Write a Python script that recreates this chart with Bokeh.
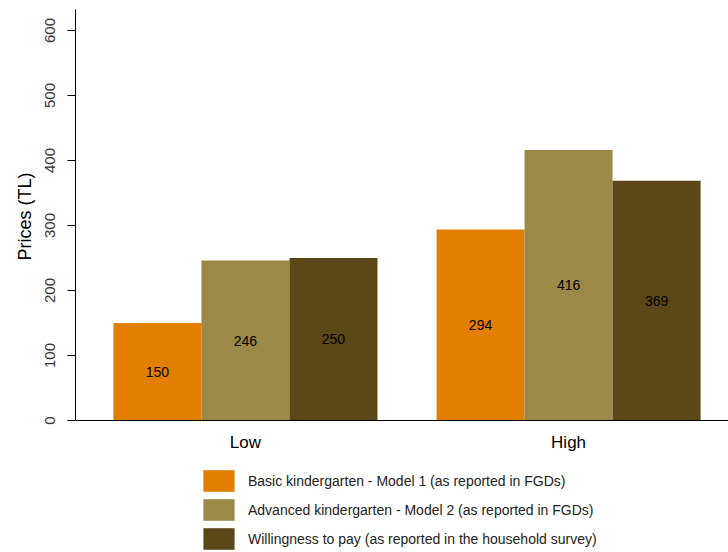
import numpy as np
from bokeh.plotting import figure
from bokeh.models import Range1d, SingleIntervalTicker, Legend, LegendItem, ColumnDataSource, Span, Title
from bokeh.core.properties import value
from bokeh.embed import file_html
from bokeh.resources import INLINE

categories = ["Low", "High"]
series_names = [
    "Basic kindergarten - Model 1 (as reported in FGDs)",
    "Advanced kindergarten - Model 2 (as reported in FGDs)",
    "Willingness to pay (as reported in the household survey)",
]
basic = [150, 294]
advanced = [246, 416]
willingness = [250, 369]
colors = ["#E37F00", "#9C8847", "#5B4718"]
y_label = "Prices (TL)"

FONT = "Liberation Sans"
Y_TOP = 632.3

p = figure(width=728, height=552, output_backend="svg", toolbar_location=None,
           x_axis_location=None,
           x_range=Range1d(-0.526, 1.495), y_range=Range1d(-203.1, Y_TOP),
           min_border_left=75, min_border_right=0, min_border_top=9, min_border_bottom=0)
p.outline_line_color = None
p.grid.visible = False

w = 0.2724
centers = np.arange(len(categories))
items = []
for k, (vals, name, col) in enumerate(zip([basic, advanced, willingness], series_names, colors)):
    xs = centers + (k - 1) * w
    src = ColumnDataSource(dict(x=xs, top=vals, mid=[v / 2 for v in vals], lab=[str(v) for v in vals]))
    r = p.vbar(x="x", top="top", bottom=0, width=w, source=src, fill_color=col, line_color=None)
    p.text(x="x", y="mid", text="lab", source=src, text_align="center", text_baseline="middle",
           text_font=value(FONT), text_font_size="14px", text_color="black")
    items.append(LegendItem(label=name, renderers=[r]))

# baseline (x axis line) and category labels
p.add_layout(Span(location=0, dimension="width", line_color="black", line_width=1))
cat_src = ColumnDataSource(dict(x=centers, y=[0] * len(categories), t=categories))
p.text(x="x", y="y", text="t", source=cat_src, text_align="center", text_baseline="middle",
       y_offset=22, text_font=value(FONT), text_font_size="17px", text_color="black")

# y axis
p.yaxis.ticker = SingleIntervalTicker(interval=100)
p.yaxis.bounds = (0, Y_TOP)
p.yaxis.major_label_orientation = "vertical"
p.yaxis.major_label_text_font = FONT
p.yaxis.major_label_text_font_size = "15px"
p.yaxis.major_label_text_color = "#333333"
p.yaxis.major_tick_out = 8
p.yaxis.major_tick_in = 0
p.yaxis.minor_tick_line_color = None
p.yaxis.axis_line_color = "black"
p.yaxis.major_label_standoff = 12

# y axis title, placed along the axis extent
p.add_layout(Title(text=y_label, align="left", offset=292, text_font=FONT,
                   text_font_size="18px", text_font_style="normal", text_color="black",
                   standoff=16), "left")

legend = Legend(items=items, location=(124, 0), orientation="vertical",
                glyph_width=39, glyph_height=27, spacing=2, label_standoff=10,
                label_text_font=FONT, label_text_font_size="14px", label_text_color="#222222",
                border_line_color=None, background_fill_alpha=0, padding=0, margin=0)
p.add_layout(legend, "center")

open("out.html", "w").write(file_html(p, INLINE))
